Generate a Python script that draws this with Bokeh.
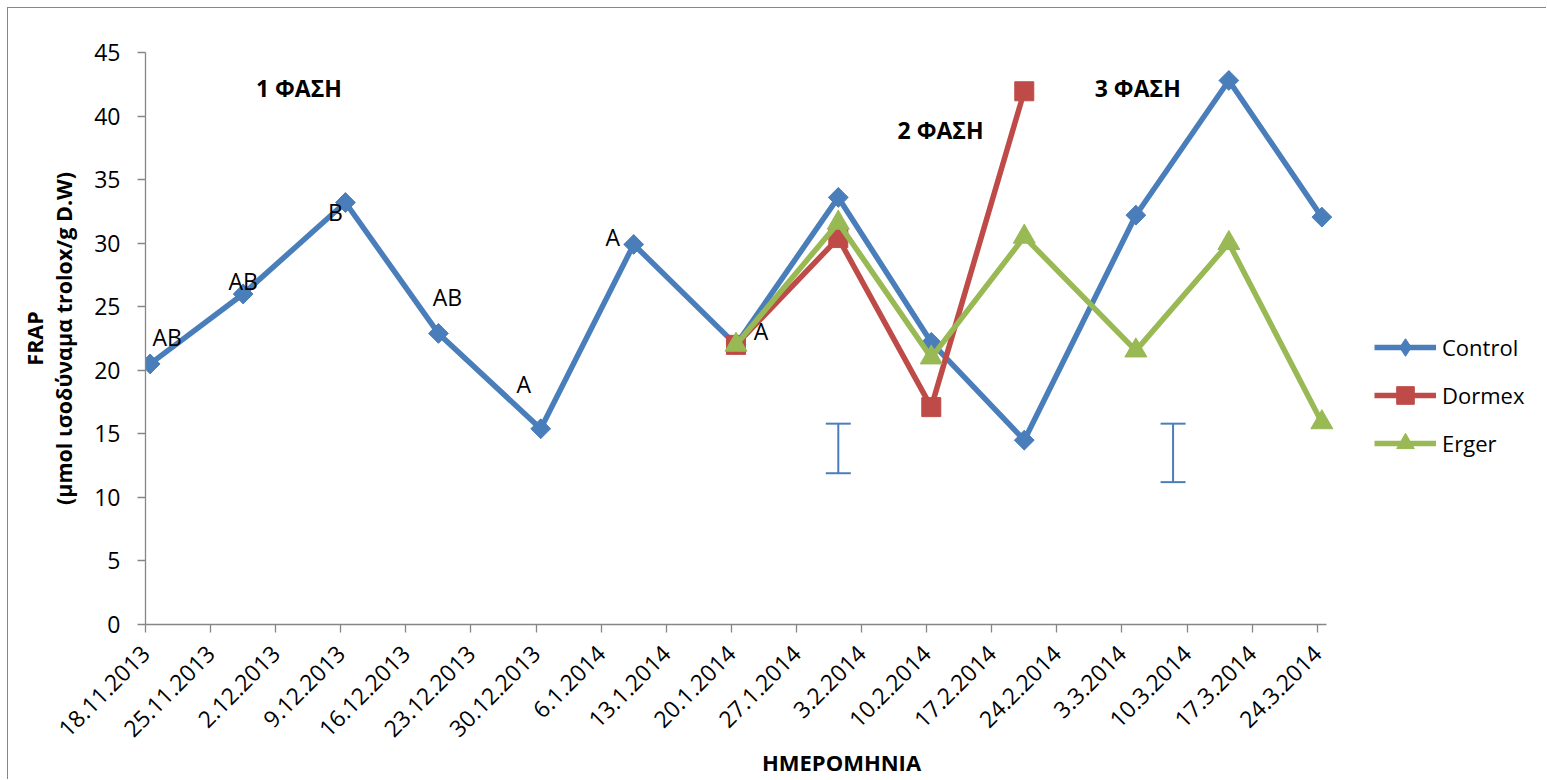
from datetime import datetime
from bokeh.plotting import figure
from bokeh.models import (ColumnDataSource, FixedTicker, Legend, LegendItem,
                          Whisker, TeeHead, Range1d, Label)
from bokeh.transform import dodge
from bokeh.core.properties import value
from bokeh.embed import file_html
from bokeh.resources import INLINE

# ---------------- data ----------------
control_dates = ["18.11.2013", "28.11.2013", "9.12.2013", "19.12.2013", "30.12.2013",
                 "9.1.2014", "20.1.2014", "31.1.2014", "10.2.2014", "20.2.2014",
                 "4.3.2014", "14.3.2014", "24.3.2014"]
control = [20.5, 26.0, 33.2, 22.9, 15.4, 29.9, 22.0, 33.6, 22.2, 14.5, 32.2, 42.8, 32.05]

dormex_dates = ["20.1.2014", "31.1.2014", "10.2.2014", "20.2.2014"]
dormex = [22.0, 30.4, 17.1, 41.95]

erger_dates = ["20.1.2014", "31.1.2014", "10.2.2014", "20.2.2014",
               "4.3.2014", "14.3.2014", "24.3.2014"]
erger = [22.0, 31.6, 21.0, 30.5, 21.55, 30.0, 15.9]

letters = ["AB", "AB", "B", "AB", "A", "A", "A"]   # on the first Control points

err_dates = ["31.1.2014", "8.3.2014"]
err_low = [11.9, 11.2]
err_high = [15.8, 15.8]

tick_labels = ["18.11.2013", "25.11.2013", "2.12.2013", "9.12.2013", "16.12.2013",
               "23.12.2013", "30.12.2013", "6.1.2014", "13.1.2014", "20.1.2014",
               "27.1.2014", "3.2.2014", "10.2.2014", "17.2.2014", "24.2.2014",
               "3.3.2014", "10.3.2014", "17.3.2014", "24.3.2014"]
y_ticks = [0, 5, 10, 15, 20, 25, 30, 35, 40, 45]

phase_texts = ["1 ΦΑΣΗ", "2 ΦΑΣΗ", "3 ΦΑΣΗ"]

# ---------------- helpers ----------------
EPOCH = datetime(1970, 1, 1)
DAY = 86400000.0


def ms(s):
    return (datetime.strptime(s, "%d.%m.%Y") - EPOCH).total_seconds() * 1000.0


BLUE = "#4A7EBB"
RED = "#BE4B48"
GREEN = "#98B954"
AXIS = "#868686"
FONT = "Open Sans"

W, H = 1539, 772
ML, MR, MT, MB = 137, 10, 44, 156
AXIS_W = 1181          # pixels used by the date axis (127 days)
FRAME_W = W - ML - MR
x0 = ms("18.11.2013")
x_axis_end = x0 + 127 * DAY
x_end = x0 + 127 * DAY * FRAME_W / AXIS_W

p = figure(width=W, height=H, output_backend="svg", toolbar_location=None,
           x_axis_type="datetime",
           x_range=Range1d(x0, x_end), y_range=Range1d(0, 45),
           min_border_left=ML, min_border_top=MT, min_border_right=MR,
           min_border_bottom=MB)
p.styles = {"border-left": "1px solid #878787", "border-top": "1px solid #878787",
            "margin-left": "7px", "margin-top": "7px"}
p.outline_line_color = None
p.xgrid.visible = False
p.ygrid.visible = False

half = dodge("x", DAY / 2, range=p.x_range)

src_c = ColumnDataSource(dict(x=[ms(d) for d in control_dates], y=control))
src_d = ColumnDataSource(dict(x=[ms(d) for d in dormex_dates], y=dormex))
src_e = ColumnDataSource(dict(x=[ms(d) for d in erger_dates], y=erger))

lc = p.line(x=half, y="y", source=src_c, line_color=BLUE, line_width=5.5, line_join="round")
# diamond used for the legend symbol (hidden beneath the square diamonds)
mc_leg = p.scatter(x=half, y="y", source=src_c, marker="diamond", size=19,
                   fill_color=BLUE, line_color=BLUE)
mc = p.scatter(x=half, y="y", source=src_c, marker="square", angle=45, angle_units="deg",
               size=14, fill_color=BLUE, line_color=BLUE)
ld = p.line(x=half, y="y", source=src_d, line_color=RED, line_width=5.5, line_join="round")
md = p.scatter(x=half, y="y", source=src_d, marker="square", size=19,
               fill_color=RED, line_color=RED)
le = p.line(x=half, y="y", source=src_e, line_color=GREEN, line_width=5.5, line_join="round")
me = p.scatter(x=half, y="y", source=src_e, marker="triangle", size=22,
               fill_color=GREEN, line_color=GREEN)

# significance letters
n = len(letters)
dx = [17, 0, -10, 9, -17, -21, 25]
dy = [-27, -13, 10, -36, -45, -7, -14]
src_l = ColumnDataSource(dict(x=src_c.data["x"][:n], y=control[:n], t=letters, dx=dx, dy=dy))
p.text(x=half, y="y", text="t", source=src_l, x_offset="dx", y_offset="dy",
       text_align="center", text_baseline="middle", text_font=value(FONT),
       text_font_size="23px", text_color="black")

# error bars
src_w = ColumnDataSource(dict(x=[ms(d) for d in err_dates], lo=err_low, hi=err_high))
w = Whisker(base=half, lower="lo", upper="hi", source=src_w, line_color=BLUE, line_width=2,
            upper_head=TeeHead(size=25, line_color=BLUE, line_width=2),
            lower_head=TeeHead(size=25, line_color=BLUE, line_width=2))
p.add_layout(w)

# phase labels
phase_pos = [(ms("4.12.2013") + DAY / 2, 42.2), (ms("11.2.2014") + DAY / 2, 38.9),
             (ms("4.3.2014") + DAY * 0.7, 42.2)]
for t, (px, py) in zip(phase_texts, phase_pos):
    p.add_layout(Label(x=px, y=py, text=t, text_align="center", text_baseline="middle",
                       text_font=FONT, text_font_size="23px", text_font_style="bold",
                       text_color="black"))

# axes
p.xaxis.ticker = FixedTicker(ticks=[ms(t) for t in tick_labels])
p.xaxis.major_label_overrides = {ms(t): t for t in tick_labels}
p.xaxis.major_label_orientation = 0.785398
p.xaxis.bounds = (x0, x_axis_end)
p.yaxis.ticker = FixedTicker(ticks=y_ticks)
for ax in (p.xaxis, p.yaxis):
    ax.axis_line_color = AXIS
    ax.axis_line_width = 1.3
    ax.major_tick_line_color = AXIS
    ax.major_tick_line_width = 1.3
    ax.major_tick_out = 8
    ax.major_tick_in = 0
    ax.minor_tick_line_color = None
    ax.major_label_text_font = FONT
    ax.major_label_text_font_size = "23px"
    ax.major_label_text_color = "black"
    ax.axis_label_text_font = FONT
    ax.axis_label_text_font_style = "bold"
    ax.axis_label_text_color = "black"
p.xaxis.major_label_standoff = 17
p.yaxis.major_label_standoff = 17
p.xaxis.axis_label = "ΗΜΕΡΟΜΗΝΙΑ"
p.xaxis.axis_label_text_font_size = "22px"
p.xaxis.axis_label_text_line_height = 1.0
p.xaxis.axis_label_standoff = 0
p.yaxis.axis_label = "FRAP\n(μmol ισοδύναμα trolox/g D.W)"
p.yaxis.axis_label_text_font_size = "21.5px"
p.yaxis.axis_label_text_line_height = 1.0
p.yaxis.axis_label_standoff = 13

legend = Legend(items=[LegendItem(label="Control", renderers=[lc, mc_leg]),
                       LegendItem(label="Dormex", renderers=[ld, md]),
                       LegendItem(label="Erger", renderers=[le, me])],
                location=(1229, 159), orientation="vertical",
                glyph_width=62, glyph_height=44, label_height=44, spacing=4,
                label_standoff=6, padding=0, margin=0,
                border_line_color=None, background_fill_alpha=0,
                label_text_font=FONT, label_text_font_size="22px",
                label_text_color="black")
p.add_layout(legend, "center")

open("out.html", "w").write(file_html(p, INLINE))
